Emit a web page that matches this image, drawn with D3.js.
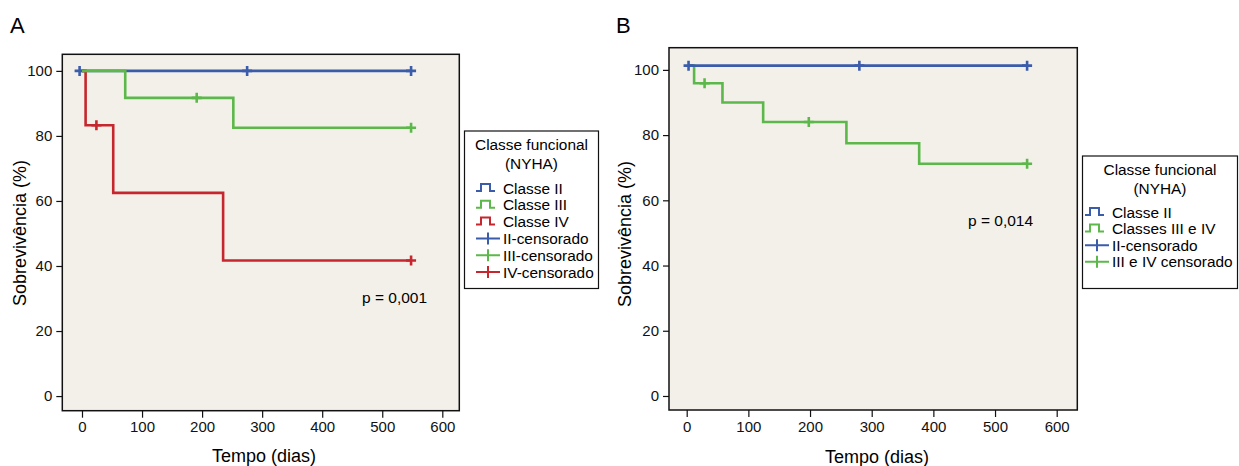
<!DOCTYPE html>
<html>
<head>
<meta charset="utf-8">
<script src="https://cdn.jsdelivr.net/npm/d3@7"></script>
<style>
  body { margin: 0; background: #fff; }
  svg { font-family: "Liberation Sans", Arial, sans-serif; }
  .axis text { font-size: 15px; fill: #111; }
  .axis path, .axis line { stroke: #111; stroke-width: 1.2px; }
</style>
</head>
<body>
<div id="chart"></div>
<script>
// Panel A - survival curves (step points: time, survival after that time)
const aII_t = [-4, 548],               aII_s = [100, 100];
const aIII_t = [0, 72, 252, 548],      aIII_s = [100, 91.7, 82.5, 82.5];
const aIV_t = [0, 6, 52, 235, 548],    aIV_s = [100, 83.3, 62.5, 41.7, 41.7];
// Panel A - censored observations
const aII_ct = [-4, 275, 548],  aII_cs = [100, 100, 100];
const aIII_ct = [191, 548],     aIII_cs = [91.7, 82.5];
const aIV_ct = [24, 548],       aIV_cs = [83.3, 41.7];

// Panel B
const bII_t = [3, 552],                          bII_s = [101.3, 101.3];
const bIII_t = [3, 12, 58, 124, 259, 377, 552],  bIII_s = [101.3, 95.9, 90, 84, 77.5, 71.2, 71.2];
const bII_ct = [3, 280, 552],   bII_cs = [101.3, 101.3, 101.3];
const bIII_ct = [29, 198, 552], bIII_cs = [95.9, 84, 71.2];

const xTicks = [0, 100, 200, 300, 400, 500, 600];
const yTicks = [0, 20, 40, 60, 80, 100];

const legendA = ["Classe II", "Classe III", "Classe IV", "II-censorado", "III-censorado", "IV-censorado"];
const legendB = ["Classe II", "Classes III e IV", "II-censorado", "III e IV censorado"];

const blue = "#3b5cab", green = "#5cb84a", red = "#c6272e";

let svg = d3.select("#chart").append("svg")
    .attr("width", 1239)
    .attr("height", 466);

function toPoints(t, s) {
    return t.map((d, i) => ({t: d, s: s[i]}));
}

function drawPanel(p) {
    let x = d3.scaleLinear().domain(p.xDomain).range(p.xRange);
    let y = d3.scaleLinear().domain(p.yDomain).range(p.yRange);

    let g = svg.append("g");

    // plot background
    g.append("rect")
        .attr("x", p.xRange[0]).attr("y", p.yRange[1])
        .attr("width", p.xRange[1] - p.xRange[0])
        .attr("height", p.yRange[0] - p.yRange[1])
        .attr("fill", "#f3f0ea");

    let line = d3.line()
        .x(d => x(d.t))
        .y(d => y(d.s))
        .curve(d3.curveStepAfter);

    p.series.forEach(sr => {
        g.append("path")
            .datum(toPoints(sr.t, sr.s))
            .attr("d", line)
            .attr("fill", "none")
            .attr("stroke", sr.color)
            .attr("stroke-width", 2.6);

        // censor marks
        toPoints(sr.ct, sr.cs).forEach(d => {
            g.append("path")
                .attr("d", `M${x(d.t) - 5},${y(d.s)}h10M${x(d.t)},${y(d.s) - 5}v10`)
                .attr("stroke", sr.color)
                .attr("stroke-width", 2.6);
        });
    });

    // frame
    g.append("rect")
        .attr("x", p.xRange[0]).attr("y", p.yRange[1])
        .attr("width", p.xRange[1] - p.xRange[0])
        .attr("height", p.yRange[0] - p.yRange[1])
        .attr("fill", "none")
        .attr("stroke", "#111")
        .attr("stroke-width", 1.5);

    g.append("g")
        .attr("class", "axis")
        .attr("transform", `translate(0,${p.yRange[0]})`)
        .call(d3.axisBottom(x).tickValues(xTicks).tickSize(7).tickPadding(4))
        .call(a => a.select(".domain").remove());

    g.append("g")
        .attr("class", "axis")
        .attr("transform", `translate(${p.xRange[0]},0)`)
        .call(d3.axisLeft(y).tickValues(yTicks).tickSize(6).tickPadding(4))
        .call(a => a.select(".domain").remove());

    // axis titles
    g.append("text")
        .attr("x", p.xTitle[0]).attr("y", p.xTitle[1])
        .attr("text-anchor", "middle")
        .style("font-size", "18px")
        .text("Tempo (dias)");

    g.append("text")
        .attr("transform", `translate(${p.yTitle[0]},${p.yTitle[1]}) rotate(-90)`)
        .attr("text-anchor", "middle")
        .style("font-size", "18px")
        .text("Sobrevivência (%)");

    // panel letter
    g.append("text")
        .attr("x", p.letterPos[0]).attr("y", p.letterPos[1])
        .style("font-size", "22px")
        .text(p.letter);

    // p value
    g.append("text")
        .attr("x", p.pPos[0]).attr("y", p.pPos[1])
        .style("font-size", "15.5px")
        .text(p.pText);

    // legend
    let L = p.legend;
    let lg = svg.append("g");
    lg.append("rect")
        .attr("x", L.box[0]).attr("y", L.box[1])
        .attr("width", L.box[2]).attr("height", L.box[3])
        .attr("fill", "#fff")
        .attr("stroke", "#111")
        .attr("stroke-width", 1.2);

    let cx = L.box[0] + L.box[2] / 2;
    lg.append("text").attr("x", cx).attr("y", L.titleY)
        .attr("text-anchor", "middle").style("font-size", "15.4px")
        .text("Classe funcional");
    lg.append("text").attr("x", cx).attr("y", L.titleY + 19)
        .attr("text-anchor", "middle").style("font-size", "15.4px")
        .text("(NYHA)");

    L.labels.forEach((label, i) => {
        let cy = L.firstY + i * L.step;
        let col = L.colors[i];
        if (L.kinds[i] === "step") {
            let x0 = L.iconX;
            lg.append("path")
                .attr("d", `M${x0},${cy + 3}h5v-7h9v7h5`)
                .attr("fill", "none")
                .attr("stroke", col)
                .attr("stroke-width", 2);
        } else {
            let x0 = L.iconX;
            lg.append("path")
                .attr("d", `M${x0},${cy}h24M${x0 + 12},${cy - 6}v12`)
                .attr("stroke", col)
                .attr("stroke-width", 2);
        }
        lg.append("text")
            .attr("x", L.iconX + 27).attr("y", cy + 5.5)
            .style("font-size", "15.4px")
            .text(label);
    });
}

drawPanel({
    letter: "A", letterPos: [10, 33],
    xDomain: [-32.8, 628.3], xRange: [62.3, 459.3],
    yDomain: [-4.5, 105.1], yRange: [410.7, 54.3],
    xTitle: [264, 462], yTitle: [26, 233],
    pText: "p = 0,001", pPos: [362, 303],
    series: [
        {t: aII_t, s: aII_s, ct: aII_ct, cs: aII_cs, color: blue},
        {t: aIV_t, s: aIV_s, ct: aIV_ct, cs: aIV_cs, color: red},
        {t: aIII_t, s: aIII_s, ct: aIII_ct, cs: aIII_cs, color: green}
    ],
    legend: {
        box: [464.5, 131, 134, 157.5],
        titleY: 150, firstY: 188, step: 16.8, iconX: 476,
        labels: legendA,
        kinds: ["step", "step", "step", "cens", "cens", "cens"],
        colors: [blue, green, red, blue, green, red]
    }
});

drawPanel({
    letter: "B", letterPos: [616, 33],
    xDomain: [-28.7, 633.4], xRange: [669, 1077.3],
    yDomain: [-4.3, 106.8], yRange: [410, 47.7],
    xTitle: [877, 463], yTitle: [631, 234],
    pText: "p = 0,014", pPos: [968, 226],
    series: [
        {t: bIII_t, s: bIII_s, ct: bIII_ct, cs: bIII_cs, color: green},
        {t: bII_t, s: bII_s, ct: bII_ct, cs: bII_cs, color: blue}
    ],
    legend: {
        box: [1082.5, 156, 155, 132.5],
        titleY: 175, firstY: 212, step: 16.6, iconX: 1085,
        labels: legendB,
        kinds: ["step", "step", "cens", "cens"],
        colors: [blue, green, blue, green]
    }
});
</script>
</body>
</html>
